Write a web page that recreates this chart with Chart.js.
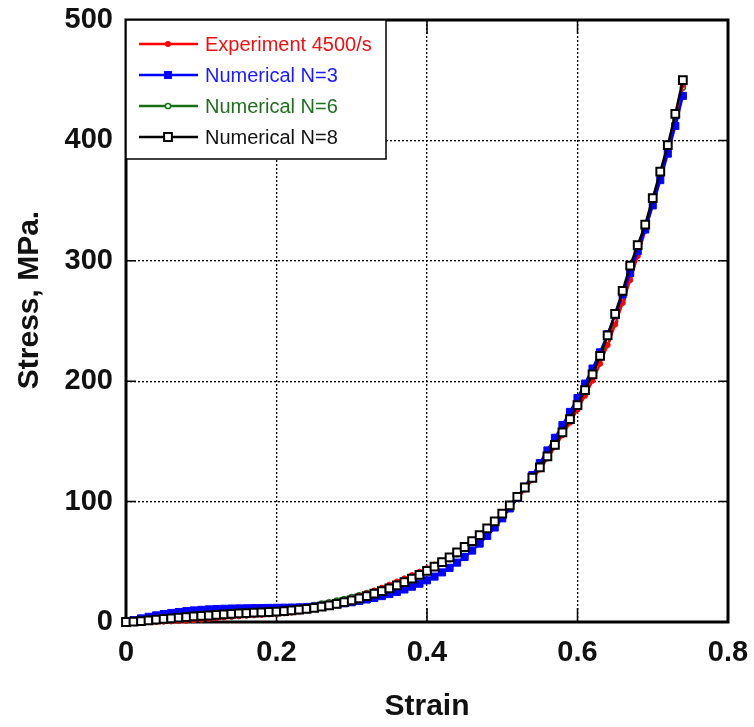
<!DOCTYPE html>
<html lang="en">
<head>
    <meta charset="UTF-8">
    <script src="https://cdn.jsdelivr.net/npm/chart.js"></script>
    <title>Stress vs strain</title>
    <style>
      body { margin: 0; background: #fff; }
    </style>
</head>
<body>
    <canvas id="myChart" width="754" height="727"></canvas>

    <script>
      // strain values shared by all curves
      const strain = [0, 0.01, 0.02, 0.03, 0.04, 0.05, 0.06, 0.07, 0.08, 0.09,
        0.10, 0.11, 0.12, 0.13, 0.14, 0.15, 0.16, 0.17, 0.18, 0.19,
        0.20, 0.21, 0.22, 0.23, 0.24, 0.25, 0.26, 0.27, 0.28, 0.29,
        0.30, 0.31, 0.32, 0.33, 0.34, 0.35, 0.36, 0.37, 0.38, 0.39,
        0.40, 0.41, 0.42, 0.43, 0.44, 0.45, 0.46, 0.47, 0.48, 0.49,
        0.50, 0.51, 0.52, 0.53, 0.54, 0.55, 0.56, 0.57, 0.58, 0.59,
        0.60, 0.61, 0.62, 0.63, 0.64, 0.65, 0.66, 0.67, 0.68, 0.69,
        0.70, 0.71, 0.72, 0.73, 0.74];

      const expStress = [0, 0, 0.1, 0.2, 0.3, 0.4, 0.6, 0.8, 1.1, 1.5,
        2, 2.6, 3.2, 3.8, 4.3, 4.8, 5.2, 5.6, 6, 6.3,
        6.7, 7.2, 7.8, 8.6, 9.6, 10.8, 12.2, 13.8, 15.6, 17.5,
        19.5, 21.6, 23.8, 26.1, 28.5, 31, 33.6, 36.2, 38.9, 41.7,
        44.6, 47.6, 50.8, 54.2, 57.9, 61.9, 66.3, 71.1, 76.3, 82,
        88.2, 95, 102.3, 110, 118.2, 126.8, 135.8, 145.3, 155.2, 165.6,
        176.5, 188, 200.5, 214.5, 230, 247, 265, 284, 304, 325,
        347, 370, 394, 420, 446];

      const n3Stress = [0, 1.5, 3, 4.3, 5.5, 6.6, 7.5, 8.3, 9, 9.6,
        10.1, 10.5, 10.8, 11, 11.2, 11.3, 11.4, 11.5, 11.6, 11.7,
        11.8, 11.9, 12, 12.2, 12.5, 12.9, 13.4, 14, 14.7, 15.5,
        16.4, 17.5, 18.7, 20, 21.5, 23.2, 25, 27, 29.3, 31.8,
        34.6, 37.7, 41.2, 45, 49.3, 54, 59.3, 65.1, 71.5, 78.5,
        86.1, 94.3, 103, 112.3, 122, 132, 142.5, 153, 163.5, 174.5,
        186, 198, 210.5, 224, 239, 255, 272, 290, 308, 326,
        346, 367, 389, 412, 437];

      const n6Stress = [0, 0.1, 0.2, 0.4, 0.6, 0.8, 1, 1.3, 1.6, 2,
        2.5, 3.1, 3.8, 4.6, 5.4, 6.2, 7, 7.8, 8.6, 9.3,
        10, 10.7, 11.4, 12.2, 13.1, 14.1, 15.2, 16.4, 17.7, 19.1,
        20.6, 22.2, 23.9, 25.7, 27.6, 29.6, 31.7, 34, 36.5, 39.2,
        42.1, 45.2, 48.6, 52.3, 56.3, 60.7, 65.5, 70.7, 76.3, 82.4,
        89, 96, 103.5, 111.5, 120, 129, 138.5, 148.5, 159, 170,
        181.5, 193.5, 206, 219.5, 234, 250, 268, 288, 308, 328,
        349, 371, 394, 418, 444];

      const n8Stress = [0, 0.3, 0.8, 1.4, 2, 2.6, 3.1, 3.6, 4.1, 4.6,
        5, 5.4, 5.9, 6.3, 6.7, 7.1, 7.4, 7.7, 8, 8.3,
        8.7, 9.1, 9.6, 10.2, 10.9, 11.7, 12.7, 13.8, 15.1, 16.5,
        18, 19.7, 21.5, 23.5, 25.7, 28, 30.5, 33.2, 36.1, 39.2,
        42.5, 46, 49.7, 53.6, 57.8, 62.3, 67.1, 72.2, 77.7, 83.6,
        90, 96.8, 104, 111.7, 119.8, 128.4, 137.5, 147.2, 157.5, 168.5,
        180.2, 192.6, 205.7, 221, 238, 256, 275, 296, 313, 330,
        352, 374, 396, 422, 450];

      const seriesLabels = ['Experiment 4500/s', 'Numerical N=3', 'Numerical N=6', 'Numerical N=8'];
      const textColors = ['#ee1111', '#1a1aff', '#1f6f1f', '#111111'];

      const xTicks = [0, 0.2, 0.4, 0.6, 0.8];
      const yTicks = [0, 100, 200, 300, 400, 500];

      const FONT = 'Liberation Sans, Arial, sans-serif';

      function pts(ys) {
        return strain.map((x, i) => ({ x: x, y: ys[i] }));
      }

      // scales should not reserve extra room for their end labels
      function noPad(s) {
        s.paddingTop = 0; s.paddingBottom = 0;
        s.paddingLeft = 0; s.paddingRight = 0;
      }

      // frame, inner tick marks, y title and legend box
      const decorPlugin = {
        id: 'decor',
        beforeDatasetsDraw(chart) {
          const { ctx, chartArea: a, scales } = chart;
          ctx.save();
          ctx.strokeStyle = '#000';
          ctx.lineWidth = 1.5;
          xTicks.forEach(v => {
            const px = scales.x.getPixelForValue(v);
            ctx.beginPath();
            ctx.moveTo(px, a.bottom); ctx.lineTo(px, a.bottom - 14);
            ctx.moveTo(px, a.top); ctx.lineTo(px, a.top + 14);
            ctx.stroke();
          });
          yTicks.forEach(v => {
            const py = scales.y.getPixelForValue(v);
            ctx.beginPath();
            ctx.moveTo(a.left, py); ctx.lineTo(a.left + 10, py);
            ctx.moveTo(a.right, py); ctx.lineTo(a.right - 10, py);
            ctx.stroke();
          });
          ctx.lineWidth = 3;
          ctx.strokeRect(a.left, a.top, a.right - a.left, a.bottom - a.top);

          // y axis title
          ctx.translate(30, 300);
          ctx.rotate(-Math.PI / 2);
          ctx.fillStyle = '#111';
          ctx.font = 'bold 30px ' + FONT;
          ctx.textAlign = 'center';
          ctx.textBaseline = 'middle';
          ctx.fillText('Stress, MPa.', 0, 0);
          ctx.restore();
        },
        afterDatasetsDraw(chart) {
          const { ctx, chartArea: a } = chart;
          ctx.save();
          const bx = a.left, by = a.top, bw = 260, bh = 139;
          ctx.fillStyle = '#fff';
          ctx.fillRect(bx, by, bw, bh);
          ctx.strokeStyle = '#000';
          ctx.lineWidth = 1.5;
          ctx.strokeRect(bx, by, bw, bh);
          const rows = [44, 75, 106, 137];
          chart.data.datasets.forEach((ds, i) => {
            const y = rows[i];
            ctx.strokeStyle = ds.borderColor;
            ctx.lineWidth = 2.5;
            ctx.beginPath();
            ctx.moveTo(bx + 13, y); ctx.lineTo(bx + 72, y);
            ctx.stroke();
            ctx.fillStyle = ds.pointBackgroundColor;
            ctx.strokeStyle = ds.pointBorderColor;
            ctx.lineWidth = ds.pointBorderWidth;
            Chart.helpers.drawPoint(ctx, {
              pointStyle: ds.pointStyle,
              radius: ds.pointRadius,
              borderWidth: ds.pointBorderWidth,
              rotation: 0
            }, bx + 42, y);
            ctx.fillStyle = textColors[i];
            ctx.font = '20px ' + FONT;
            ctx.textAlign = 'left';
            ctx.textBaseline = 'middle';
            ctx.fillText(ds.label, bx + 79, y + 1);
          });
          ctx.restore();
        }
      };

      const ctx = document.getElementById('myChart');

      new Chart(ctx, {
        type: 'scatter',
        data: {
          datasets: [
            {
              label: seriesLabels[0],
              data: pts(expStress),
              showLine: true,
              borderColor: '#ff0000',
              borderWidth: 2.5,
              pointStyle: 'circle',
              pointRadius: 2.6,
              pointBackgroundColor: '#ff0000',
              pointBorderColor: '#ff0000',
              pointBorderWidth: 1,
              order: 2,
              clip: false
            },
            {
              label: seriesLabels[1],
              data: pts(n3Stress),
              showLine: true,
              borderColor: '#0000ff',
              borderWidth: 2.5,
              pointStyle: 'rect',
              pointRadius: 5,
              pointBackgroundColor: '#0000ff',
              pointBorderColor: '#0000ff',
              pointBorderWidth: 1,
              order: 1,
              clip: false
            },
            {
              label: seriesLabels[2],
              data: pts(n6Stress),
              showLine: true,
              borderColor: '#157015',
              borderWidth: 2.5,
              pointStyle: 'circle',
              pointRadius: 2.6,
              pointBackgroundColor: '#ffffff',
              pointBorderColor: '#157015',
              pointBorderWidth: 1.5,
              order: 3,
              clip: false
            },
            {
              label: seriesLabels[3],
              data: pts(n8Stress),
              showLine: true,
              borderColor: '#000000',
              borderWidth: 2.5,
              pointStyle: 'rect',
              pointRadius: 5.5,
              pointBackgroundColor: '#ffffff',
              pointBorderColor: '#000000',
              pointBorderWidth: 2,
              order: 0,
              clip: false
            }
          ]
        },
        options: {
          responsive: false,
          animation: false,
          layout: { padding: { top: 20, right: 26, left: 0, bottom: 0 } },
          plugins: {
            legend: { display: false },
            tooltip: { enabled: false }
          },
          scales: {
            x: {
              type: 'linear',
              min: 0,
              max: 0.8,
              afterFit: s => { s.height = 105; noPad(s); },
              afterBuildTicks: s => { s.ticks = xTicks.map(v => ({ value: v })); },
              ticks: {
                color: '#111',
                padding: 14,
                font: { family: FONT, size: 29, weight: 'bold' },
                callback: v => String(v)
              },
              grid: { color: '#000', lineWidth: 1.3, drawTicks: false },
              border: { display: false, dash: [2, 2] },
              title: {
                display: true,
                text: 'Strain',
                color: '#111',
                font: { family: FONT, size: 30, weight: 'bold' },
                padding: { top: 0, bottom: 2 }
              }
            },
            y: {
              type: 'linear',
              min: 0,
              max: 500,
              afterFit: s => { s.width = 126; noPad(s); },
              afterBuildTicks: s => { s.ticks = yTicks.map(v => ({ value: v })); },
              ticks: {
                color: '#111',
                padding: 13,
                font: { family: FONT, size: 29, weight: 'bold' }
              },
              grid: { color: '#000', lineWidth: 1.3, drawTicks: false },
              border: { display: false, dash: [2, 2] }
            }
          }
        },
        plugins: [decorPlugin]
      });
    </script>
 </body>
</html>
